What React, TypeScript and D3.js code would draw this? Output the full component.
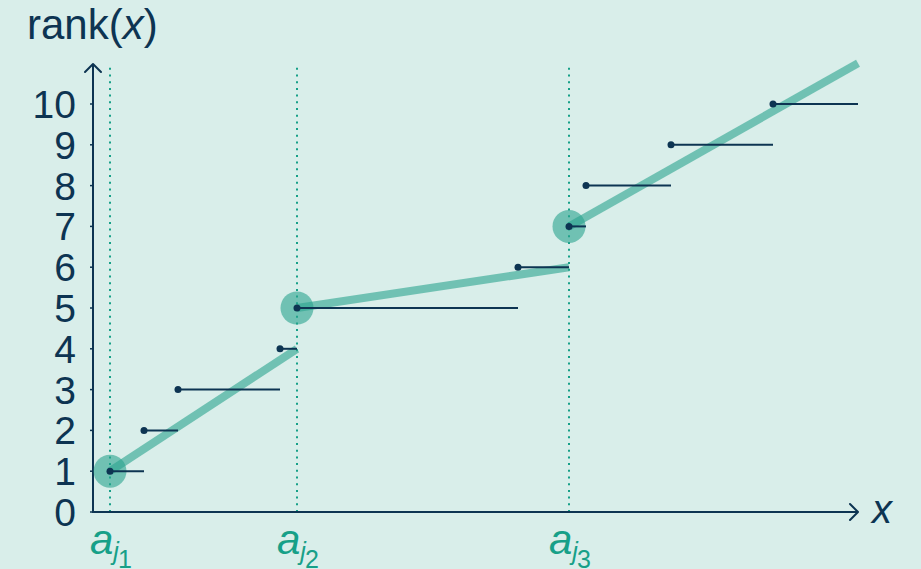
import React from "react";
import * as d3 from "d3";

// Sorted sample positions and their ranks
const sampleX = [1, 3, 5, 11, 12, 25, 28, 29, 34, 40];
const sampleRank = [1, 2, 3, 4, 5, 6, 7, 8, 9, 10];
const xEnd = 45;

// Anchor positions a_j
const anchorX = [1, 12, 28];
const anchorRank = [1, 5, 7];
const anchorSub = ["1", "2", "3"];

// Piecewise linear approximation between anchors
const segStartX = [1, 12, 28];
const segStartRank = [1, 5, 7];
const segEndX = [12, 28, 45];
const segEndRank = [4, 6, 11];

const yTicks = [0, 1, 2, 3, 4, 5, 6, 7, 8, 9, 10];

const W = 921;
const H = 569;
const BG = "#d9eeea";
const NAVY = "#0d3452";
const TEAL = "#17a088";
const FILL = "#2aa38e";
const FONT = "'Liberation Sans', Arial, sans-serif";

export default function App() {
  const x = d3.scaleLinear().domain([0, xEnd]).range([93, 858]);
  const y = d3.scaleLinear().domain([0, 10]).range([512, 104]);
  const yTop = y(10.98);

  const line = d3
    .line<[number, number]>()
    .x((d) => x(d[0]))
    .y((d) => y(d[1]));

  return (
    <svg
      width={W}
      height={H}
      style={{ position: "absolute", left: 0, top: 0, display: "block" }}
    >
      <rect width={W} height={H} fill={BG} />

      {/* y label */}
      <text x={27} y={39} fontFamily={FONT} fontSize={42} fill={NAVY}>
        rank(<tspan fontStyle="italic">x</tspan>)
      </text>

      {/* dotted anchor guides */}
      {anchorX.map((a, i) => (
        <line
          key={"g" + i}
          x1={x(a)}
          x2={x(a)}
          y1={y(0)}
          y2={yTop}
          stroke={TEAL}
          strokeWidth={2}
          strokeDasharray="2 4.7"
        />
      ))}

      {/* axes */}
      <line x1={x(0)} x2={x(0)} y1={y(0) + 1} y2={yTop} stroke={NAVY} strokeWidth={2} />
      <path
        d={`M${x(0) - 8},${yTop + 8} L${x(0)},${yTop} L${x(0) + 8},${yTop + 8}`}
        fill="none"
        stroke={NAVY}
        strokeWidth={2}
        strokeLinecap="round"
        strokeLinejoin="round"
      />
      <line x1={x(0) - 1} x2={x(xEnd)} y1={y(0)} y2={y(0)} stroke={NAVY} strokeWidth={2} />
      <path
        d={`M${x(xEnd) - 8},${y(0) - 8} L${x(xEnd)},${y(0)} L${x(xEnd) - 8},${y(0) + 8}`}
        fill="none"
        stroke={NAVY}
        strokeWidth={2}
        strokeLinecap="round"
        strokeLinejoin="round"
      />
      <text x={872} y={523} fontFamily={FONT} fontSize={40} fontStyle="italic" fill={NAVY}>
        x
      </text>

      {/* y ticks */}
      {yTicks.map((t) => (
        <g key={"t" + t}>
          <line x1={x(0) - 3} x2={x(0)} y1={y(t)} y2={y(t)} stroke={NAVY} strokeWidth={1.5} />
          <text
            x={76}
            y={y(t)}
            dy="0.36em"
            textAnchor="end"
            fontFamily={FONT}
            fontSize={39}
            fill={NAVY}
          >
            {t}
          </text>
        </g>
      ))}

      {/* anchor circles */}
      {anchorX.map((a, i) => (
        <circle
          key={"c" + i}
          cx={x(a)}
          cy={y(anchorRank[i])}
          r={16.5}
          fill={FILL}
          fillOpacity={0.6}
        />
      ))}

      {/* linear segments */}
      {segStartX.map((s, i) => (
        <path
          key={"s" + i}
          d={line([
            [s, segStartRank[i]],
            [segEndX[i], segEndRank[i]],
          ]) as string}
          stroke={FILL}
          strokeOpacity={0.6}
          strokeWidth={8}
          fill="none"
        />
      ))}

      {/* empirical rank steps */}
      {sampleX.map((sx, i) => {
        const nx = i + 1 < sampleX.length ? sampleX[i + 1] : xEnd;
        return (
          <g key={"p" + i}>
            <line
              x1={x(sx)}
              x2={x(nx)}
              y1={y(sampleRank[i])}
              y2={y(sampleRank[i])}
              stroke={NAVY}
              strokeWidth={2}
            />
            <circle cx={x(sx)} cy={y(sampleRank[i])} r={3.5} fill={NAVY} />
          </g>
        );
      })}

      {/* anchor labels */}
      {anchorX.map((a, i) => (
        <text
          key={"l" + i}
          x={x(a) - 20}
          y={554}
          fontFamily={FONT}
          fontSize={42}
          fill={TEAL}
        >
          <tspan fontStyle="italic">a</tspan>
          <tspan fontStyle="italic" fontSize={25} dy={6}>
            j
          </tspan>
          <tspan fontSize={25} dy={8} dx={-1}>
            {anchorSub[i]}
          </tspan>
        </text>
      ))}
    </svg>
  );
}
